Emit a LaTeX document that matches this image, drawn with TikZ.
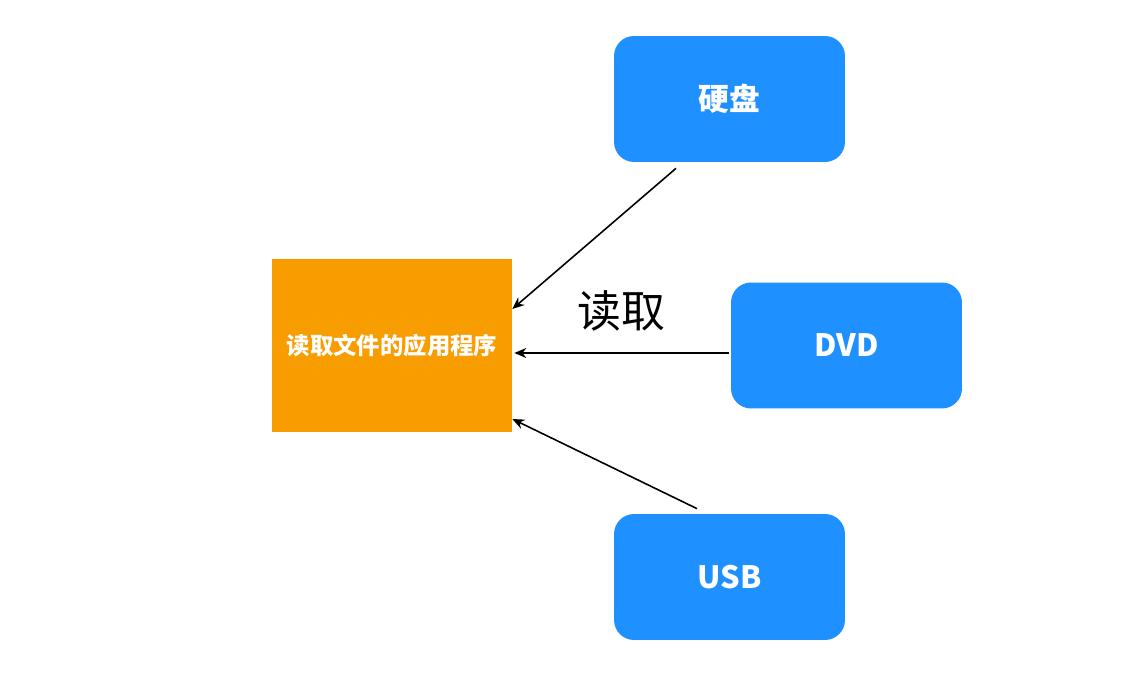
\documentclass[tikz,border=0pt]{standalone}
\usepackage{fontspec}
\setmainfont{Noto Sans CJK SC}
\usepackage{xcolor}
\usetikzlibrary{arrows.meta, positioning}

\definecolor{devblue}{HTML}{1E90FF}
\definecolor{apporange}{HTML}{F89D00}

\begin{document}
\begin{tikzpicture}[
    x=0.02cm, y=-0.02cm,
    app/.style={rectangle, fill=apporange, minimum width=4.8cm, minimum height=3.46cm, align=center, text=white, font=\bfseries\fontsize{13.3pt}{16pt}\selectfont},
    device/.style={rectangle, rounded corners=0.4cm, fill=devblue, minimum width=4.62cm, minimum height=2.52cm, align=center, text=white, font=\bfseries\fontsize{17.5pt}{20pt}\selectfont},
    read/.style={-{Stealth[length=0.24cm, width=0.2cm]}, line width=0.9pt, black}
]
\useasboundingbox (0,0) rectangle (1126,678);

% Application
\node[app] (app) at (392, 345.5) {读取文件的应用程序};

% Devices
\node[device] (disk) at (729.5, 99) {硬盘};
\node[device] (dvd) at (846.5, 345.5) {DVD};
\node[device] (usb) at (729.5, 577) {USB};

% Reading arrows
\draw[read] ([shift={(-1.07cm,-0.12cm)}]disk.south) -- ([yshift=0.73cm]app.east);
\draw[read] ([shift={(-0.04cm,-0.15cm)}]dvd.west) -- ([shift={(0.04cm,-0.15cm)}]app.east);
\draw[read] ([shift={(-0.65cm,0.1cm)}]usb.north) -- ([yshift=-1.47cm]app.east);

\node[font=\fontsize{25pt}{30pt}\selectfont] (readlabel) at (621, 311) {读取};

\end{tikzpicture}
\end{document}
